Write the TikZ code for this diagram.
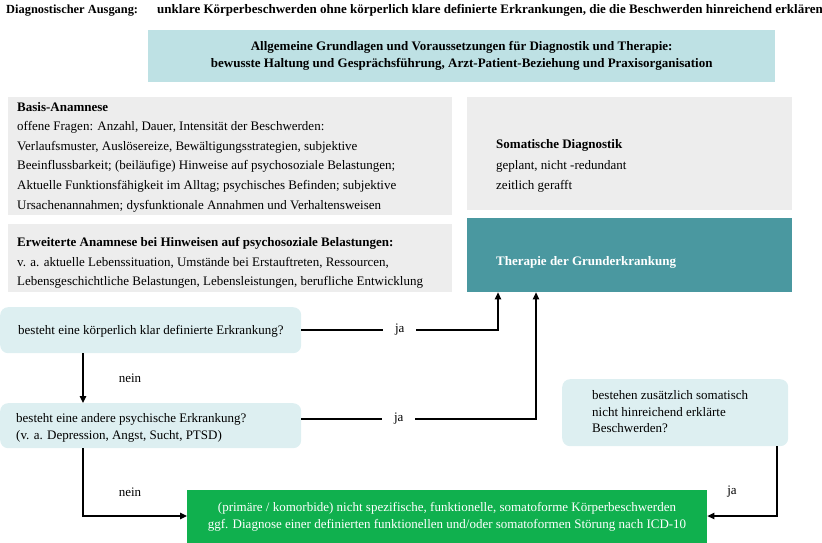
\documentclass[tikz,border=0pt]{standalone}
\usepackage{fontspec}
\setmainfont{Liberation Serif}
\usetikzlibrary{arrows.meta}
\definecolor{topteal}{HTML}{BEE1E4}
\definecolor{graybox}{HTML}{EDEDED}
\definecolor{thercol}{HTML}{4A98A0}
\definecolor{qcol}{HTML}{DDEFF1}
\definecolor{greencol}{HTML}{10B04E}
\begin{document}
\begin{tikzpicture}[x=1pt,y=-1pt,
  box/.style={draw=none,inner sep=0pt,anchor=north west},
  qbox/.style={box,fill=qcol,rounded corners=8pt},
  txt/.style={inner sep=0pt,align=left,font=\fontsize{13}{19.6}\selectfont},
  lbl/.style={inner sep=0pt,font=\fontsize{13}{14}\selectfont},
  jal/.style={lbl,fill=white,inner xsep=12pt,inner ysep=2pt},
  conn/.style={line width=1.2pt,-{Triangle[length=7pt,width=6.5pt]}}
]
\useasboundingbox (0,0) rectangle (822,543);
% header
\node[lbl,anchor=base west,font=\fontsize{12.4}{14}\selectfont\bfseries] (hdrA) at (6,14) {Diagnostischer Ausgang:};
\node[lbl,anchor=base west,font=\fontsize{13}{14}\selectfont\bfseries] (hdrB) at (157,14) {unklare Körperbeschwerden ohne körperlich klare definierte Erkrankungen, die die Beschwerden hinreichend erklären};
% top box
\node[box,fill=topteal,minimum width=627pt,minimum height=52pt] (top) at (148,30) {};
\node[txt,align=center,font=\fontsize{13}{17}\selectfont\bfseries] (toptxt) at (top.center) {Allgemeine Grundlagen und Voraussetzungen für Diagnostik und Therapie:\\bewusste Haltung und Gesprächsführung, Arzt-Patient-Beziehung und Praxisorganisation};
% basis
\node[box,fill=graybox,minimum width=444pt,minimum height=118pt] (basis) at (8,97) {};
\node[txt,anchor=west] (basistxt) at (17,157) {\textbf{Basis-Anamnese}\\
offene Fragen: Anzahl, Dauer, Intensität der Beschwerden:\\
Verlaufsmuster, Auslösereize, Bewältigungsstrategien, subjektive\\
Beeinflussbarkeit; (beiläufige) Hinweise auf psychosoziale Belastungen;\\
Aktuelle Funktionsfähigkeit im Alltag; psychisches Befinden; subjektive\\
Ursachenannahmen; dysfunktionale Annahmen und Verhaltensweisen};
% erweiterte
\node[box,fill=graybox,minimum width=444pt,minimum height=68pt] (erw) at (8,224) {};
\node[txt,anchor=west] (erwtxt) at (17,263) {\textbf{Erweiterte Anamnese bei Hinweisen auf psychosoziale Belastungen:}\\
v. a. aktuelle Lebenssituation, Umstände bei Erstauftreten, Ressourcen,\\
Lebensgeschichtliche Belastungen, Lebensleistungen, berufliche Entwicklung};
% somatische
\node[box,fill=graybox,minimum width=325pt,minimum height=113pt] (som) at (467,97) {};
\node[txt,anchor=west,font=\fontsize{13}{20.5}\selectfont] (somtxt) at (496,166) {\textbf{Somatische Diagnostik}\\
geplant, nicht -redundant\\
zeitlich gerafft};
% therapie
\node[box,fill=thercol,minimum width=325pt,minimum height=74pt] (ther) at (467,218) {};
\node[txt,anchor=west,text=white,font=\fontsize{13}{14}\selectfont\bfseries] (thertxt) at (496,262) {Therapie der Grunderkrankung};
% questions
\node[qbox,minimum width=301pt,minimum height=46pt] (q1) at (0,307) {};
\node[txt,anchor=west] (q1txt) at (18,331) {besteht eine körperlich klar definierte Erkrankung?};
\node[qbox,minimum width=301pt,minimum height=45pt] (q2) at (0,403) {};
\node[txt,anchor=west,font=\fontsize{13}{17}\selectfont] (q2txt) at (16,428) {besteht eine andere psychische Erkrankung?\\(v. a. Depression, Angst, Sucht, PTSD)};
\node[qbox,minimum width=226pt,minimum height=67pt] (q3) at (562,379) {};
\node[txt,anchor=west,font=\fontsize{13}{16.5}\selectfont] (q3txt) at (592,412) {bestehen zusätzlich somatisch\\nicht hinreichend erklärte\\Beschwerden?};
% green
\node[box,fill=greencol,minimum width=520pt,minimum height=55pt] (green) at (187,490) {};
\node[txt,align=center,text=white,font=\fontsize{13}{16.5}\selectfont] (greentxt) at (447,517) {(primäre / komorbide) nicht spezifische, funktionelle, somatoforme Körperbeschwerden\\ggf. Diagnose einer definierten funktionellen und/oder somatoformen Störung nach ICD-10};
% connectors
\coordinate (c1) at (498,330);
\coordinate (c2) at (536,419);
\coordinate (c3) at (83,516);
\coordinate (c4) at (777,516);
\draw[conn] (q1.east |- c1) -- node[jal,pos=0.5] (ja1) {ja} (c1) -- (c1 |- ther.south);
\draw[conn] (q2.east |- c2) -- node[jal,pos=0.415] (ja2) {ja} (c2) -- (c2 |- ther.south);
\draw[conn] (c3 |- q1.south) -- (c3 |- q2.north);
\draw[conn] (c3 |- q2.south) -- (c3) -- (c3 -| green.west);
\draw[conn] (c4 |- q3.south) -- (c4) -- (c4 -| green.east);
\node[lbl] (nein1) at (130,378) {nein};
\node[lbl] (nein2) at (130,492) {nein};
\node[lbl] (ja3) at (732,492) {ja};
\end{tikzpicture}
\end{document}
